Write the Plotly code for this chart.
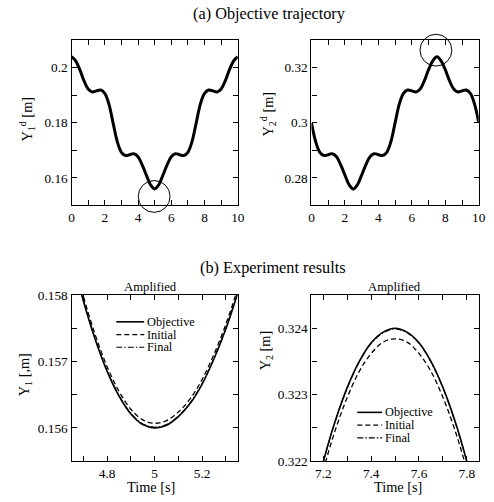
import plotly.graph_objects as go

W, H = 494, 502
FONT = "Liberation Serif"

# ---------------- data ----------------
time_full = [0.0, 0.25, 0.5, 0.75, 1.0, 1.25, 1.5, 1.75, 2.0, 2.25, 2.5, 2.75,
             3.0, 3.25, 3.5, 3.75, 4.0, 4.25, 4.5, 4.75, 5.0, 5.25, 5.5, 5.75,
             6.0, 6.25, 6.5, 6.75, 7.0, 7.25, 7.5, 7.75, 8.0, 8.25, 8.5, 8.75,
             9.0, 9.25, 9.5, 9.75, 10.0]

y1_objective = [0.2040, 0.2025, 0.1993, 0.1953, 0.1923, 0.1912, 0.1916, 0.1919,
                0.1907, 0.1868, 0.1800, 0.1732, 0.1693, 0.1681, 0.1684, 0.1688,
                0.1677, 0.1647, 0.1610, 0.1575, 0.1560, 0.1575, 0.1610, 0.1647,
                0.1677, 0.1688, 0.1684, 0.1681, 0.1693, 0.1732, 0.1800, 0.1868,
                0.1907, 0.1919, 0.1916, 0.1912, 0.1923, 0.1953, 0.1993, 0.2025,
                0.2040]

y2_objective = [0.3000, 0.2932, 0.2893, 0.2881, 0.2884, 0.2888, 0.2877, 0.2847,
                0.2810, 0.2775, 0.2760, 0.2775, 0.2810, 0.2847, 0.2877, 0.2888,
                0.2884, 0.2881, 0.2893, 0.2932, 0.3000, 0.3068, 0.3107, 0.3119,
                0.3116, 0.3112, 0.3123, 0.3153, 0.3193, 0.3225, 0.3240, 0.3225,
                0.3193, 0.3153, 0.3123, 0.3112, 0.3116, 0.3119, 0.3107, 0.3068,
                0.3000]

time_zoom1 = [4.65, 4.70, 4.75, 4.80, 4.85, 4.90, 4.95, 5.00, 5.05, 5.10,
              5.15, 5.20, 5.25, 5.30, 5.35]
y1_zoom_objective = [0.15860, 0.15791, 0.15733, 0.15685, 0.15648, 0.15621,
                     0.15605, 0.15600, 0.15604, 0.15617, 0.15637, 0.15666,
                     0.15704, 0.15749, 0.15803]
y1_zoom_initial = [0.15867, 0.15798, 0.15740, 0.15692, 0.15655, 0.15628,
                   0.15612, 0.15607, 0.15611, 0.15624, 0.15644, 0.15673,
                   0.15711, 0.15756, 0.15810]
y1_zoom_final = [0.15861, 0.15792, 0.15734, 0.15686, 0.15649, 0.15622,
                 0.15606, 0.15601, 0.15605, 0.15618, 0.15638, 0.15667,
                 0.15705, 0.15750, 0.15804]

time_zoom2 = [7.15, 7.20, 7.25, 7.30, 7.35, 7.40, 7.45, 7.50, 7.55, 7.60,
              7.65, 7.70, 7.75, 7.80, 7.85]
y2_zoom_objective = [0.32128, 0.32200, 0.32261, 0.32311, 0.32350, 0.32378,
                     0.32394, 0.32400, 0.32394, 0.32378, 0.32350, 0.32311,
                     0.32261, 0.32200, 0.32128]
y2_zoom_initial = [0.32116, 0.32187, 0.32247, 0.32296, 0.32335, 0.32362,
                   0.32379, 0.32384, 0.32379, 0.32362, 0.32335, 0.32296,
                   0.32247, 0.32187, 0.32116]
y2_zoom_final = [0.32127, 0.32199, 0.32260, 0.32310, 0.32349, 0.32377,
                 0.32393, 0.32399, 0.32393, 0.32377, 0.32349, 0.32310,
                 0.32260, 0.32199, 0.32127]

series_names = ["Objective", "Initial", "Final"]

# tick positions / labels (major labelled, minor blank)
x_top_ticks = [0, 1, 2, 3, 4, 5, 6, 7, 8, 9, 10]
x_top_labels = ["0", "", "2", "", "4", "", "6", "", "8", "", "10"]
y1_top_ticks = [0.15, 0.16, 0.17, 0.18, 0.19, 0.20, 0.21]
y1_top_labels = ["", "0.16", "", "0.18", "", "0.2", ""]
y2_top_ticks = [0.27, 0.28, 0.29, 0.30, 0.31, 0.32, 0.33]
y2_top_labels = ["", "0.28", "", "0.3", "", "0.32", ""]
x_bl_ticks = [4.7, 4.8, 4.9, 5.0, 5.1, 5.2, 5.3]
x_bl_labels = ["", "4.8", "", "5", "", "5.2", ""]
y_bl_ticks = [0.1555, 0.156, 0.1565, 0.157, 0.1575, 0.158]
y_bl_labels = ["", "0.156", "", "0.157", "", "0.158"]
x_br_ticks = [7.2, 7.3, 7.4, 7.5, 7.6, 7.7, 7.8]
x_br_labels = ["7.2", "", "7.4", "", "7.6", "", "7.8"]
y_br_ticks = [0.322, 0.3225, 0.323, 0.3235, 0.324, 0.3245]
y_br_labels = ["0.322", "", "0.323", "", "0.324", ""]

# map target-picture pixels to page pixels (compensates the capture scale)
SX, CX, SY, CY = 0.984, 1.2, 0.975, 4.6

def PX(r):
    return (r - CX) / SX

def PY(r):
    return (r - CY) / SY

def px_x(r):
    return PX(r) / W

def px_y(r):
    return 1 - PY(r) / H

DASH_INIT = "5px,3px"
DASH_FINAL = "6px,2px,1.5px,2px"

fig = go.Figure()

fig.add_trace(go.Scatter(x=time_full, y=y1_objective, mode="lines",
                         line=dict(color="black", width=3, shape="spline"),
                         xaxis="x", yaxis="y", showlegend=False))
fig.add_trace(go.Scatter(x=time_full, y=y2_objective, mode="lines",
                         line=dict(color="black", width=3, shape="spline"),
                         xaxis="x2", yaxis="y2", showlegend=False))

styles = [dict(color="black", width=1.6, shape="spline"),
          dict(color="black", width=1.3, dash=DASH_INIT, shape="spline"),
          dict(color="black", width=1.1, dash=DASH_FINAL, shape="spline")]
for name, ys, st in zip(series_names,
                        [y1_zoom_objective, y1_zoom_initial, y1_zoom_final], styles):
    fig.add_trace(go.Scatter(x=time_zoom1, y=ys, mode="lines", name=name,
                             line=st, xaxis="x3", yaxis="y3", showlegend=False))
for name, ys, st in zip(series_names,
                        [y2_zoom_objective, y2_zoom_initial, y2_zoom_final], styles):
    fig.add_trace(go.Scatter(x=time_zoom2, y=ys, mode="lines", name=name,
                             line=st, xaxis="x4", yaxis="y4", showlegend=False))

TICKFONT = dict(family=FONT, size=13.3, color="black")

def axis(domain, anchor, rng, tickvals, ticktext):
    return dict(domain=domain, anchor=anchor, range=rng,
                tickmode="array", tickvals=tickvals, ticktext=ticktext,
                showgrid=False, zeroline=False, showline=True, linecolor="black",
                linewidth=1.2, mirror="allticks", ticks="inside", ticklen=5,
                tickwidth=1.2, tickcolor="black", tickfont=TICKFONT)

xd_left = [px_x(70), px_x(237)]
xd_right = [px_x(311), px_x(479)]
yd_top = [px_y(204), px_y(38)]
yd_bot = [px_y(461), px_y(294)]

fig.update_layout(
    width=W, height=H,
    margin=dict(l=0, r=0, t=0, b=0),
    paper_bgcolor="white", plot_bgcolor="white",
    hovermode=False,
    xaxis=axis(xd_left, "y", [0, 10], x_top_ticks, x_top_labels),
    yaxis=axis(yd_top, "x", [0.15, 0.21], y1_top_ticks, y1_top_labels),
    xaxis2=axis(xd_right, "y2", [0, 10], x_top_ticks, x_top_labels),
    yaxis2=axis(yd_top, "x2", [0.27, 0.33], y2_top_ticks, y2_top_labels),
    xaxis3=axis(xd_left, "y3", [4.65, 5.35], x_bl_ticks, x_bl_labels),
    yaxis3=axis(yd_bot, "x3", [0.1555, 0.158], y_bl_ticks, y_bl_labels),
    xaxis4=axis(xd_right, "y4", [7.15, 7.85], x_br_ticks, x_br_labels),
    yaxis4=axis(yd_bot, "x4", [0.322, 0.3245], y_br_ticks, y_br_labels),
)

ann = []
def text(x, y, s, size, angle=0, xanchor="center", ypage=None):
    yy = (1 - ypage / H) if ypage is not None else px_y(y)
    ann.append(dict(x=px_x(x), y=yy, xref="paper", yref="paper", text=s,
                    showarrow=False, textangle=angle, xanchor=xanchor,
                    yanchor="middle", font=dict(family=FONT, size=size, color="black")))

text(269, 11, "(a) Objective trajectory", 16.3)
text(272, 266, "(b) Experiment results", 16.3)
text(149, 286, "Amplified", 12.7)
text(394, 286, "Amplified", 12.7)
text(150, 0, "Time [s]", 14.3, ypage=494.5)
text(398, 0, "Time [s]", 14.3, ypage=494.5)
text(25, 117, "Y<sub>1</sub><sup>d</sup> [m]", 14.3, -90)
text(267, 112, "Y<sub>2</sub><sup>d</sup> [m]", 14.3, -90)
text(23, 374, "Y<sub>1</sub> [,m]", 14.3, -90)
text(265, 350, "Y<sub>2</sub> [m]", 14.3, -90)

shapes = []
leg_dash = ["solid", DASH_INIT, DASH_FINAL]
leg_w = [1.6, 1.3, 1.1]
for (lx0, lx1, ty0) in [(115, 143, 321), (357, 382, 412)]:
    for i, name in enumerate(series_names):
        yy = ty0 + i * 12.8
        shapes.append(dict(type="line", xref="paper", yref="paper",
                           x0=px_x(lx0), x1=px_x(lx1), y0=px_y(yy), y1=px_y(yy),
                           line=dict(color="black", width=leg_w[i], dash=leg_dash[i])))
        text(lx1 + 1, yy, name, 12.3, xanchor="left")

for (cx, cy, r) in [(153, 195, 16), (436, 48, 16)]:
    shapes.append(dict(type="circle", xref="paper", yref="paper",
                       x0=px_x(cx - r), x1=px_x(cx + r),
                       y0=px_y(cy + r), y1=px_y(cy - r),
                       line=dict(color="black", width=1)))

fig.update_layout(annotations=ann, shapes=shapes)
fig.write_html(
    "out.html",
    config={"displayModeBar": False},
    post_script=("document.documentElement.style.margin='0';"
                 "document.body.style.margin='0';"
                 "document.documentElement.style.overflow='hidden';"
                 "document.body.style.overflow='hidden';"),
)
